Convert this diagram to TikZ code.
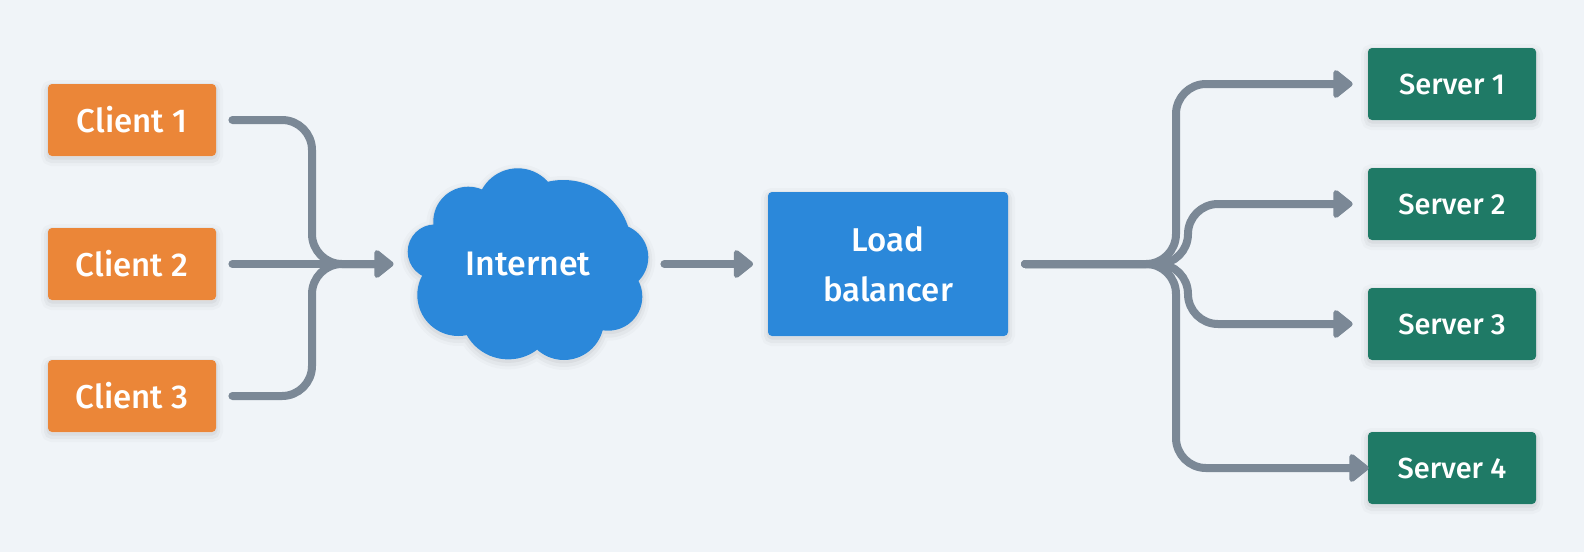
\documentclass[tikz,border=0pt]{standalone}
\usepackage{fontspec}
\setmainfont{Fira Sans Medium}
\usetikzlibrary{arrows.meta}

\definecolor{pagebg}{HTML}{F0F4F8}
\definecolor{clientfill}{HTML}{EB8638}
\definecolor{netfill}{HTML}{2B88DA}
\definecolor{serverfill}{HTML}{1F7A66}
\definecolor{linkgrey}{HTML}{7B8896}

\tikzset{
  softshadow/.style={
    preaction={draw=black,draw opacity=.02,line width=7pt,transform canvas={yshift=-1.5pt}},
    preaction={draw=black,draw opacity=.03,line width=4pt,transform canvas={yshift=-1.5pt}},
    preaction={draw=black,draw opacity=.04,line width=1.5pt,transform canvas={yshift=-1pt}}},
  box/.style={rounded corners=2pt,text=white,inner sep=0pt,align=center,softshadow},
  clientbox/.style={box,fill=clientfill,minimum width=84pt,minimum height=36pt,font=\fontsize{16.5}{20}\selectfont},
  serverbox/.style={box,fill=serverfill,minimum width=84pt,minimum height=36pt,font=\fontsize{14.5}{18}\selectfont},
  link/.style={draw=linkgrey,line width=4pt,line cap=round,rounded corners=15pt},
  tip/.style={-{Triangle[length=10.5pt,width=16pt,round]}},
}

\begin{document}
\begin{tikzpicture}[x=0.5pt,y=-0.5pt]
  \fill[pagebg] (0,0) rectangle (1584,552);
  \useasboundingbox (0,0) rectangle (1584,552);

  % clients
  \node[clientbox] (client1) at (132,120) {Client 1};
  \node[clientbox] (client2) at (132,264) {Client 2};
  \node[clientbox] (client3) at (132,396) {Client 3};

  % cloud, a union of circles
  \fill[netfill,softshadow]
    \foreach \cx/\cy/\cr in {435/251.7/27.3,468.3/221.7/35,517.7/209/40.7,563.3/248.3/68.3,615/257.3/33.3,
      608.3/296.7/34,564/320/40,508.3/311.7/47.7,458.3/295/41,528.3/263.3/73.3} {
      (\cx,\cy) circle (\cr)
    };
  \node[text=white,inner sep=0pt,minimum width=120pt,minimum height=96pt,font=\fontsize{17}{20}\selectfont] (internet) at (528,264) {Internet};

  % balancer and servers
  \node[box,fill=netfill,minimum width=120pt,minimum height=72pt,font=\fontsize{16.5}{25}\selectfont] (balancer) at (888,264) {Load\hspace{4pt}\\balancer};
  \node[serverbox] (server1) at (1452,84) {Server 1};
  \node[serverbox] (server2) at (1452,204) {Server 2};
  \node[serverbox] (server3) at (1452,324) {Server 3};
  \node[serverbox] (server4) at (1452,468) {Server 4};

  % bend points
  \coordinate (joinin) at (312,264);
  \coordinate (forkouter) at (1176,264);
  \coordinate (forkinner) at (1188,264);

  % clients to internet
  \path[link,shorten <=8pt,shorten >=16pt] (client1.east) -| (joinin) -- (internet.west);
  \path[link,shorten <=8pt,shorten >=16pt] (client3.east) -| (joinin) -- (internet.west);
  \path[link,tip,shorten <=8pt,shorten >=7pt] (client2.east) -- (internet.west);
  \path[link,tip,shorten <=8pt,shorten >=7.25pt] (internet.east) -- (balancer.west);

  % balancer to servers
  \path[link,tip,shorten <=8.3pt,shorten >=7.5pt] (balancer.east) -- (forkouter) |- (server1.west);
  \path[link,tip,shorten <=8.3pt,shorten >=7.5pt] (balancer.east) -- (forkinner) |- (server2.west);
  \path[link,tip,shorten <=8.3pt,shorten >=7.5pt] (balancer.east) -- (forkinner) |- (server3.west);
  \path[link,tip,shorten <=8.3pt,shorten >=-0.5pt] (balancer.east) -- (forkouter) |- (server4.west);
\end{tikzpicture}
\end{document}
